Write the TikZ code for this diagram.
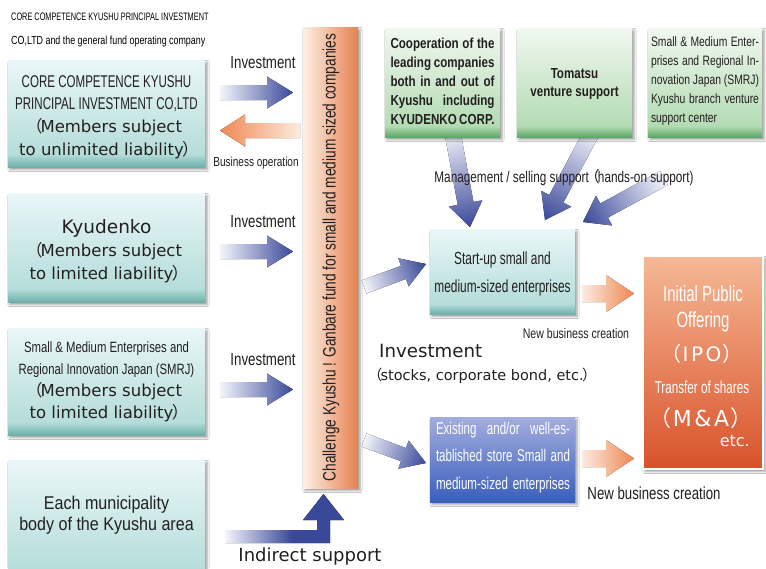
\documentclass[tikz,border=0pt]{standalone}
\usepackage{fontspec}
\setmainfont{DejaVu Sans}
\newfontfamily\wide{DejaVu Sans}
\newfontfamily\cnd[FakeStretch=0.68]{Liberation Sans}
\newfontfamily\cndl[FakeStretch=0.76]{Liberation Sans}
\newfontfamily\cndm[FakeStretch=0.8]{Liberation Sans}
\newfontfamily\cndb[FakeStretch=0.87]{Liberation Sans}
\newfontfamily\cjk{Noto Sans CJK JP}
\usetikzlibrary{shadows.blur,calc}
\newcommand\fs[2]{\fontsize{#1}{#2}\selectfont}
\newcommand\lpar{\kern-.3em{\cjk （}\kern-.12em}
\newcommand\rpar{\kern-.1em{\cjk ）}\kern-.3em}
\definecolor{txtc}{HTML}{231F20}
\definecolor{cyT}{HTML}{EAF6FA}
\definecolor{cyM}{HTML}{B5DDD9}
\definecolor{cyB}{HTML}{6DAFA9}
\definecolor{grT}{HTML}{F1F8F0}
\definecolor{grM}{HTML}{B3DBB3}
\definecolor{grB}{HTML}{5CA867}
\definecolor{exT}{HTML}{A3ADDD}
\definecolor{exB}{HTML}{3A5EBD}
\definecolor{ipT}{HTML}{F6B996}
\definecolor{ipB}{HTML}{D8522A}
\definecolor{fundL}{HTML}{FDF0E6}
\definecolor{fundR}{HTML}{E7814F}
\definecolor{arB}{HTML}{3A4899}
\definecolor{arL}{HTML}{F4F5FB}
\definecolor{orB}{HTML}{EF8853}
\definecolor{orL}{HTML}{FDEBE0}
\pgfdeclareverticalshading{cysh}{100bp}{color(0bp)=(cyB); color(25bp)=(cyB); color(31bp)=(cyM); color(75bp)=(cyT); color(100bp)=(cyT)}
\pgfdeclareverticalshading{grsh}{100bp}{color(0bp)=(grB); color(25bp)=(grB); color(30bp)=(grM); color(75bp)=(grT); color(100bp)=(grT)}
\pgfdeclareverticalshading{exsh}{100bp}{color(0bp)=(exB); color(25bp)=(exB); color(75bp)=(exT); color(100bp)=(exT)}
\pgfdeclareverticalshading{ipsh}{100bp}{color(0bp)=(ipB); color(25bp)=(ipB); color(75bp)=(ipT); color(100bp)=(ipT)}
\pgfdeclarehorizontalshading{indsh}{100bp}{color(0bp)=(white); color(25bp)=(arL); color(53bp)=(arB); color(100bp)=(arB)}
% block arrow: tail coord, tip coord, shaft half width, head half width, head length, fill style
\newcommand\blockarrow[6]{%
  \pgfpointdiff{\pgfpointanchor{#1}{center}}{\pgfpointanchor{#2}{center}}%
  \pgfgetlastxy{\bax}{\bay}%
  \pgfmathsetmacro\baang{atan2(\bay,\bax)}%
  \pgfmathsetmacro\balen{veclen(\bax,\bay)}%
  \begin{scope}[transform canvas={shift={(#1)},rotate=\baang}]
    \fill[#6] (0pt,-#3pt) -- ({\balen pt-#5pt},-#3pt) -- ({\balen pt-#5pt},-#4pt) -- (\balen pt,0pt)
      -- ({\balen pt-#5pt},#4pt) -- ({\balen pt-#5pt},#3pt) -- (0pt,#3pt) -- cycle;
  \end{scope}}
\tikzset{
  every node/.style={inner sep=0pt, text=txtc},
  boxbase/.style={rectangle, inner sep=0pt, blur shadow={shadow xshift=2pt, shadow yshift=-2.5pt}},
  cybox/.style={boxbase, shading=cysh},
  grbox/.style={boxbase, shading=grsh},
  exbox/.style={boxbase, shading=exsh},
  ipbox/.style={boxbase, shading=ipsh, draw=white, line width=1.4pt},
  fundbox/.style={boxbase, left color=fundL, right color=fundR},
  bluefill/.style={left color=arL, right color=arB},
  orangefill/.style={left color=orL, right color=orB},
  txt/.style={align=center},
}
\begin{document}
\begin{tikzpicture}[x=1pt,y=-1pt]
\clip (0,0) rectangle (766,568);
\fill[white] (0,0) rectangle (766,568);
% ---------- arrow end points ----------
\coordinate (i1t) at (220,92.5);  \coordinate (i1h) at (293,92.5);
\coordinate (bot) at (300,130.5); \coordinate (boh) at (220,130.5);
\coordinate (i2t) at (220,251.5); \coordinate (i2h) at (293,251.5);
\coordinate (i3t) at (220,389.5); \coordinate (i3h) at (293,389.5);
\coordinate (d1t) at (364,287);   \coordinate (d1h) at (426,264);
\coordinate (d2t) at (364,440);   \coordinate (d2h) at (426,463);
\coordinate (m1t) at (452,130);   \coordinate (m1h) at (470,227);
\coordinate (m2t) at (593,130);   \coordinate (m2h) at (545,220);
\coordinate (m3t) at (664,178);   \coordinate (m3h) at (583,222);
\coordinate (o1t) at (582,293.5); \coordinate (o1h) at (634,293.5);
\coordinate (o2t) at (582,458.5); \coordinate (o2h) at (634,458.5);
% ---------- arrows ----------
\blockarrow{i1t}{i1h}{7.5}{16}{26}{bluefill}
\blockarrow{bot}{boh}{7.5}{16}{25}{orangefill}
\blockarrow{i2t}{i2h}{7.5}{16}{26}{bluefill}
\blockarrow{i3t}{i3h}{7.5}{16}{26}{bluefill}
\blockarrow{d1t}{d1h}{7}{15}{24}{bluefill}
\blockarrow{d2t}{d2h}{7}{15}{24}{bluefill}
\blockarrow{m1t}{m1h}{8}{17}{24}{bluefill}
\blockarrow{m2t}{m2h}{8}{17}{24}{bluefill}
\blockarrow{m3t}{m3h}{8}{17}{24}{bluefill}
\blockarrow{o1t}{o1h}{8.5}{18.5}{28}{orangefill}
\blockarrow{o2t}{o2h}{8.5}{18.5}{28}{orangefill}
% indirect support arrow
\coordinate (is0) at (225,536.5);
\coordinate (is1) at (323.5,494);
\fill[shading=indsh] (225,530) -- (317,530) -- (317,520) -- (303,520) -- (is1)
  -- (344,520) -- (330,520) -- (330,543) -- (225,543) -- cycle;
% ---------- boxes ----------
\node[cybox, minimum width=197pt, minimum height=107pt] (b1) at (106.5,113.5) {};
\node[cybox, minimum width=197pt, minimum height=109pt] (b2) at (106.5,247.5) {};
\node[cybox, minimum width=197pt, minimum height=107pt] (b3) at (106.5,381.5) {};
\node[cybox, minimum width=197pt, minimum height=125pt] (b4) at (106.5,522.5) {};
\node[fundbox, minimum width=55pt, minimum height=461pt] (fund) at (330.5,257.5) {};
\node[grbox, minimum width=115pt, minimum height=109pt] (g1) at (442.5,82.5) {};
\node[grbox, minimum width=115pt, minimum height=109pt] (g2) at (574.5,82.5) {};
\node[grbox, minimum width=114pt, minimum height=109pt] (g3) at (705,82.5) {};
\node[cybox, minimum width=145pt, minimum height=85pt] (su) at (502.5,271.5) {};
\node[exbox, minimum width=145pt, minimum height=85pt] (ex) at (502.5,459.5) {};
\node[ipbox, minimum width=120pt, minimum height=213pt] (ipo) at (703,362.5) {};
% ---------- texts ----------
\node[anchor=west, align=left, text=black, font={\fs{11}{24}}] (hdr) at (11,30)
  {{\cnd\fs{10.8}{24}CORE COMPETENCE KYUSHU PRINCIPAL INVESTMENT}\\{\cndl\fs{11.7}{24}CO,LTD and the general fund operating company}};
\node[txt, font={\fs{17}{22.7}}] (b1t) at (106.5,117)
  {{\cnd CORE COMPETENCE KYUSHU}\\{\cnd PRINCIPAL INVESTMENT CO,LTD}\\{\wide\fs{16.5}{22.7}\lpar Members subject}\\{\wide\fs{16.5}{22.7}to unlimited liability\rpar}};
\node[txt, font={\wide\fs{16.5}{23}}] (b2t) at (106.5,251)
  {{\fs{18.5}{23}Kyudenko}\\\lpar Members subject\\to limited liability\rpar};
\node[txt, font={\fs{14.9}{22}}] (b3t) at (106.5,382)
  {{\cndl Small \& Medium Enterprises and}\\{\cndl Regional Innovation Japan (SMRJ)}\\{\wide\fs{16.5}{22}\lpar Members subject}\\{\wide\fs{16.5}{22}to limited liability\rpar}};
\node[txt, font={\cndb\fs{18.5}{20.5}}] (b4t) at (106.5,515) {Each municipality\\body of the Kyushu area};
\node[font={\cndl\fs{17.5}{20}}] (inv1) at (263,63) {Investment};
\node[font={\cndl\fs{13.2}{16}}] (bop) at (256,163) {Business operation};
\node[font={\cndl\fs{17.5}{20}}] (inv2) at (263,222) {Investment};
\node[font={\cndl\fs{17.5}{20}}] (inv3) at (263,360) {Investment};
\node[rotate=90, font={\cndl\fs{18}{20}}] (fundt) at (331,257.5) {Challenge Kyushu ! Ganbare fund for small and medium sized companies};
\node[align=left, font={\cndm\bfseries\fs{14.5}{19}}] (g1t) at (442.5,81)
  {\makebox[104pt][s]{Cooperation of the}\\\makebox[104pt][s]{leading companies}\\\makebox[104pt][s]{both in and out of}\\\makebox[104pt][s]{Kyushu including}\\\makebox[104pt][s]{KYUDENKO CORP.}};
\node[txt, font={\cndm\bfseries\fs{14.5}{18}}] (g2t) at (574.5,84) {Tomatsu\\venture support};
\node[align=left, font={\cndl\fs{13.6}{19}}] (g3t) at (705,81)
  {\makebox[108pt][s]{Small \& Medium Enter-}\\\makebox[108pt][s]{prises and Regional In-}\\\makebox[108pt][s]{novation Japan (SMRJ)}\\\makebox[108pt][s]{Kyushu branch venture}\\support center};
\node[font={\cndl\fs{15.5}{18}}] (mgmt) at (564,177) {Management / selling support\lpar hands-on support)};
\node[txt, font={\cnd\fs{17.5}{28}}] (sut) at (502.5,274) {Start-up small and\\medium-sized enterprises};
\node[align=left, text=white, font={\cnd\fs{17}{27.5}}] (ext) at (503,457.5)
  {\makebox[134pt][s]{Existing and/or well-es-}\\\makebox[134pt][s]{tablished store Small and}\\\makebox[134pt][s]{medium-sized enterprises}};
\node[txt, text=white, font={\cnd\fs{22}{26}}] (ipo1) at (703,309) {Initial Public\\Offering};
\node[text=white, font={\wide\fs{20}{22}}] (ipo2) at (702,354) {{\cjk （}\kern1pt I\kern2.5pt P\kern2.5pt O\kern1pt{\cjk ）}};
\node[text=white, font={\cnd\fs{17.2}{20}}] (ipo3) at (702,387) {Transfer of shares};
\node[text=white, font={\wide\fs{22}{24}}] (ipo4) at (701,418) {{\cjk （}\kern1pt M\kern2.5pt\&\kern2.5pt A\kern1pt{\cjk ）}};
\node[anchor=east, text=white, font={\wide\fs{16}{18}}] (ipo5) at (750,441) {etc.};
\node[anchor=west, font={\wide\fs{18.2}{20}}] (invb) at (379,351) {Investment};
\node[anchor=west, font={\wide\fs{14.5}{18}}] (stk) at (372,376) {\lpar stocks, corporate bond, etc.\rpar};
\node[font={\cndl\fs{13.9}{16}}] (nbc1) at (576,334) {New business creation};
\node[font={\cndl\fs{17.4}{20}}] (nbc2) at (654,493) {New business creation};
\node[font={\wide\fs{18}{20}}] (ind) at (310,557) {Indirect support};
\end{tikzpicture}
\end{document}
